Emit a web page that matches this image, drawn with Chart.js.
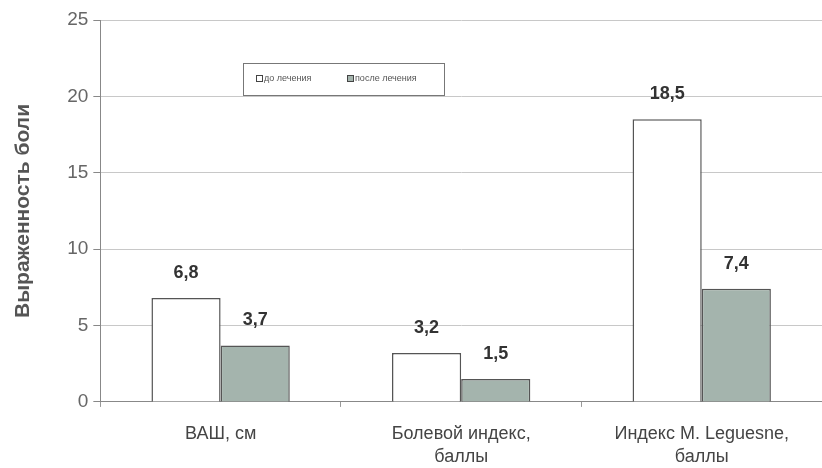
<!DOCTYPE html>
<html>
<head>
<meta charset="utf-8">
<script src="https://cdn.jsdelivr.net/npm/chart.js@4.4.0/dist/chart.umd.min.js"></script>
<style>
  html, body { margin: 0; padding: 0; background: #fff; }
  #wrap { width: 822px; height: 468px; position: relative; }
</style>
</head>
<body>
<div id="wrap"><canvas id="painChart"></canvas></div>
<script>
        // Данные
        const categories = ['ВАШ, см', ['Болевой индекс,', 'баллы'], ['Индекс M. Leguesne,', 'баллы']];
        const seriesNames = ['до лечения', 'после лечения'];
        const doLecheniya = [6.8, 3.2, 18.5];
        const posleLecheniya = [3.7, 1.5, 7.4];
        const yTicks = [0, 5, 10, 15, 20, 25];

        const barColors = ['#ffffff', '#a4b4ad'];
        const fontFamily = '"Liberation Sans", Arial, sans-serif';

        // Подписи значений над столбиками
        const valueLabels = {
            id: 'valueLabels',
            afterDatasetsDraw(chart) {
                const ctx = chart.ctx;
                ctx.save();
                ctx.font = 'bold 18px ' + fontFamily;
                ctx.fillStyle = '#333';
                ctx.textAlign = 'center';
                ctx.textBaseline = 'bottom';
                chart.data.datasets.forEach((ds, i) => {
                    chart.getDatasetMeta(i).data.forEach((bar, j) => {
                        const txt = ds.data[j].toFixed(1).replace('.', ',');
                        ctx.fillText(txt, bar.x, bar.y - 16);
                    });
                });
                ctx.restore();
            }
        };

        // Легенда в рамке внутри области графика
        const boxLegend = {
            id: 'boxLegend',
            afterDraw(chart) {
                const ctx = chart.ctx;
                const x0 = 243, y0 = 63, w = 201, h = 32;
                ctx.save();
                ctx.fillStyle = '#fff';
                ctx.fillRect(x0, y0, w, h);
                ctx.strokeStyle = '#777';
                ctx.lineWidth = 1;
                ctx.strokeRect(x0 + 0.5, y0 + 0.5, w, h);
                ctx.font = '9px ' + fontFamily;
                ctx.textBaseline = 'middle';
                const items = [[x0 + 13, seriesNames[0], barColors[0]], [x0 + 104, seriesNames[1], barColors[1]]];
                items.forEach(([x, label, color]) => {
                    ctx.fillStyle = color;
                    ctx.fillRect(x, y0 + 12, 6, 6);
                    ctx.strokeStyle = '#444';
                    ctx.strokeRect(x + 0.5, y0 + 12.5, 6, 6);
                    ctx.fillStyle = '#555';
                    ctx.fillText(label, x + 8, y0 + 16);
                });
                ctx.restore();
            }
        };

        new Chart(document.getElementById('painChart'), {
            type: 'bar',
            data: {
                labels: categories,
                datasets: [
                    {
                        label: seriesNames[0],
                        data: doLecheniya,
                        backgroundColor: barColors[0],
                        borderColor: '#555',
                        borderWidth: 1.5
                    },
                    {
                        label: seriesNames[1],
                        data: posleLecheniya,
                        backgroundColor: barColors[1],
                        borderColor: '#555',
                        borderWidth: 1.5
                    }
                ]
            },
            options: {
                responsive: true,
                maintainAspectRatio: false,
                animation: false,
                layout: { padding: { top: 20, right: 0, left: 7, bottom: -17 } },
                datasets: { bar: { categoryPercentage: 0.575, barPercentage: 1.0 } },
                plugins: {
                    legend: { display: false },
                    tooltip: { enabled: false }
                },
                scales: {
                    x: {
                        grid: { display: true, drawOnChartArea: false, tickLength: 5, tickColor: '#999' },
                        border: { color: '#888', width: 1 },
                        ticks: {
                            color: '#444',
                            padding: 16,
                            font: { size: 18, lineHeight: 1.28, family: fontFamily }
                        }
                    },
                    y: {
                        min: 0,
                        max: 25,
                        afterBuildTicks(axis) { axis.ticks = yTicks.map(v => ({ value: v })); },
                        grid: { color: '#c8c8c8', tickLength: 7, tickColor: '#888' },
                        border: { color: '#888', width: 1 },
                        ticks: {
                            color: '#666',
                            padding: 5,
                            font: { size: 19, family: fontFamily }
                        },
                        title: {
                            display: true,
                            text: 'Выраженность боли',
                            color: '#555',
                            padding: { bottom: 26 },
                            font: { size: 21, weight: 'bold', family: fontFamily }
                        }
                    }
                }
            },
            plugins: [valueLabels, boxLegend]
        });
</script>
</body>
</html>
